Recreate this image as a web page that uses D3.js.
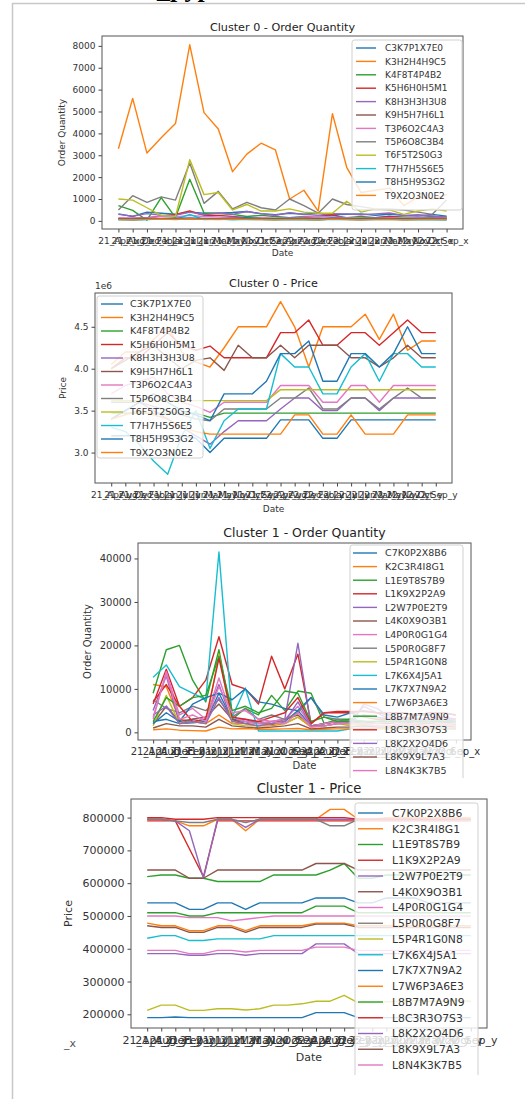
<!DOCTYPE html>
<html>
<head>
<meta charset="utf-8">
<script src="https://cdn.jsdelivr.net/npm/d3@7"></script>
<style>
  body { margin: 0; background: #fff; }
  svg { display: block; font-family: "DejaVu Sans", sans-serif; }
</style>
</head>
<body>
<div id="chart"></div>
<script>
// x categories: the merged columns, sorted as strings (so months come alphabetically)
const years = ["21", "22"];
const months = ["Apr", "Aug", "Dec", "Feb", "Jan", "Jul", "Jun", "Mar", "May", "Nov", "Oct", "Sep"];
const qtyDates = years.flatMap(y => months.map(m => `${y}_${m}_x`));
const priceDates = years.flatMap(y => months.map(m => `${y}_${m}_y`));

const cluster0Products = ["C3K7P1X7E0", "K3H2H4H9C5", "K4F8T4P4B2", "K5H6H0H5M1", "K8H3H3H3U8", "K9H5H7H6L1",
  "T3P6O2C4A3", "T5P6O8C3B4", "T6F5T2S0G3", "T7H7H5S6E5", "T8H5H9S3G2", "T9X2O3N0E2"];
const cluster1Products = ["C7K0P2X8B6", "K2C3R4I8G1", "L1E9T8S7B9", "L1K9X2P2A9", "L2W7P0E2T9", "L4K0X9O3B1",
  "L4P0R0G1G4", "L5P0R0G8F7", "L5P4R1G0N8", "L7K6X4J5A1", "L7K7X7N9A2", "L7W6P3A6E3", "L8B7M7A9N9",
  "L8C3R3O7S3", "L8K2X2O4D6", "L8K9X9L7A3", "L8N4K3K7B5"];

// cluster 0 - order quantity (one row per product)
const qty0 = [
  [320,200,400,350,300,400,350,350,380,430,330,280,350,300,350,280,300,320,260,300,250,220,300,220],
  [3300,5600,3100,3800,4450,8050,4950,4200,2250,3050,3550,3250,1000,1400,450,4900,2450,1300,1400,1500,700,1100,1000,1200],
  [700,480,30,1060,150,1900,360,350,300,200,250,200,150,200,180,250,150,200,150,200,180,150,200,180],
  [100,120,150,220,300,450,250,250,200,150,130,100,110,150,220,280,100,120,150,200,130,150,160,140],
  [300,220,330,250,260,400,280,350,300,430,320,260,380,300,250,330,320,280,320,360,250,280,220,170],
  [80,60,70,90,80,100,70,90,80,110,70,60,80,70,60,80,70,60,70,80,60,70,80,70],
  [150,120,130,200,180,250,200,180,160,150,140,130,150,170,200,180,150,120,130,150,140,160,150,120],
  [500,1150,850,1100,950,2650,800,1350,550,850,600,500,1000,700,350,1000,750,650,550,550,500,400,300,950],
  [1000,950,600,250,200,2800,1200,1300,500,750,450,450,550,400,350,350,900,400,550,500,300,450,550,450],
  [50,40,60,80,70,300,60,80,50,70,60,50,60,50,40,70,60,50,60,70,50,60,50,40],
  [100,90,110,100,120,130,110,100,120,140,110,100,120,110,100,130,110,100,120,110,100,110,120,100],
  [60,50,70,80,60,90,70,60,80,70,60,50,70,60,50,80,60,50,70,60,50,60,70,60]
];

// cluster 0 - price
const price0 = [
  [3.2e6,3.2e6,3.2e6,3.2e6,3.2e6,3.2e6,3.17e6,3.0e6,3.17e6,3.17e6,3.17e6,3.17e6,3.39e6,3.39e6,3.39e6,3.17e6,3.17e6,3.39e6,3.39e6,3.39e6,3.39e6,3.39e6,3.39e6,3.39e6],
  [4.05e6,4.2e6,4.2e6,4.35e6,4.5e6,4.2e6,4.08e6,4.02e6,4.25e6,4.5e6,4.5e6,4.5e6,4.8e6,4.5e6,4.02e6,4.5e6,4.5e6,4.5e6,4.65e6,4.35e6,4.65e6,4.22e6,4.33e6,4.33e6],
  [3.47e6,3.47e6,3.47e6,3.47e6,3.47e6,3.47e6,3.47e6,3.42e6,3.47e6,3.47e6,3.47e6,3.47e6,3.47e6,3.47e6,3.47e6,3.47e6,3.47e6,3.47e6,3.47e6,3.47e6,3.47e6,3.47e6,3.47e6,3.47e6],
  [4.0e6,4.13e6,4.13e6,4.28e6,4.43e6,4.28e6,4.22e6,4.27e6,4.13e6,4.13e6,4.13e6,4.13e6,4.43e6,4.43e6,4.58e6,4.28e6,4.28e6,4.43e6,4.43e6,4.28e6,4.43e6,4.58e6,4.43e6,4.43e6],
  [3.4e6,3.5e6,3.6e6,3.5e6,3.4e6,3.3e6,3.2e6,3.1e6,3.25e6,3.38e6,3.38e6,3.38e6,3.52e6,3.65e6,3.65e6,3.5e6,3.5e6,3.65e6,3.65e6,3.5e6,3.65e6,3.65e6,3.65e6,3.65e6],
  [4.0e6,4.1e6,4.2e6,4.28e6,4.13e6,4.0e6,4.1e6,4.13e6,3.98e6,4.28e6,4.13e6,4.13e6,4.28e6,4.13e6,4.28e6,4.28e6,4.28e6,4.13e6,4.13e6,4.02e6,4.13e6,4.28e6,4.13e6,4.13e6],
  [3.7e6,3.8e6,3.85e6,3.9e6,3.7e6,3.6e6,3.55e6,3.48e6,3.6e6,3.6e6,3.6e6,3.6e6,3.8e6,3.8e6,3.8e6,3.6e6,3.6e6,3.8e6,3.8e6,3.6e6,3.8e6,3.8e6,3.8e6,3.8e6],
  [3.6e6,3.6e6,3.6e6,3.55e6,3.5e6,3.45e6,3.4e6,3.38e6,3.52e6,3.52e6,3.52e6,3.52e6,3.65e6,3.65e6,3.77e6,3.52e6,3.52e6,3.65e6,3.65e6,3.52e6,3.65e6,3.77e6,3.65e6,3.65e6],
  [3.62e6,3.62e6,3.62e6,3.62e6,3.62e6,3.62e6,3.62e6,3.62e6,3.62e6,3.62e6,3.62e6,3.62e6,3.75e6,3.75e6,3.75e6,3.75e6,3.75e6,3.75e6,3.75e6,3.75e6,3.75e6,3.75e6,3.75e6,3.75e6],
  [3.3e6,3.25e6,3.1e6,2.9e6,2.74e6,3.2e6,3.5e6,3.05e6,3.38e6,3.52e6,3.52e6,3.52e6,4.18e6,4.02e6,4.02e6,3.7e6,3.7e6,4.02e6,4.18e6,3.85e6,4.18e6,4.18e6,4.02e6,4.02e6],
  [3.4e6,3.5e6,3.6e6,3.7e6,3.6e6,3.5e6,3.45e6,3.38e6,3.7e6,3.7e6,3.7e6,3.85e6,4.18e6,4.18e6,4.33e6,3.85e6,3.85e6,4.18e6,4.18e6,4.02e6,4.18e6,4.5e6,4.18e6,4.18e6],
  [3.4e6,3.45e6,3.5e6,3.45e6,3.4e6,3.3e6,3.25e6,3.22e6,3.22e6,3.22e6,3.22e6,3.22e6,3.22e6,3.45e6,3.45e6,3.22e6,3.22e6,3.45e6,3.22e6,3.22e6,3.22e6,3.45e6,3.45e6,3.45e6]
];

// cluster 1 - order quantity
const qty1 = [
  [2500,3000,2000,2200,2500,9000,3000,2500,2000,1800,2500,5000,1500,2000,2500,3000,4000,3500,3000,3000,2500,2500,3000,2500],
  [11000,10500,3000,2500,2000,4000,2000,2000,1500,1500,2000,3500,1200,1500,2000,2000,1800,1500,1500,2000,1800,1500,2000,1800],
  [9000,19000,20000,12000,7000,19000,3000,5500,4000,8500,5000,9500,9000,2000,3000,3000,2500,2000,2500,3000,2500,2000,2500,2000],
  [6500,14500,6000,8000,12000,22000,11000,10000,6500,17500,10000,18000,2000,4500,4500,4500,3500,3000,3000,3500,3000,3000,3500,3000],
  [5000,13000,2000,3000,3500,11000,2500,3000,2000,2500,3000,20500,1500,2000,2500,2500,6000,4500,3000,3000,2500,3000,2500,2500],
  [2000,6000,2500,3000,3500,6500,3000,2000,2500,2000,3000,4000,1500,2000,2500,2000,2500,2000,2000,2500,2000,2000,2500,2000],
  [3000,14000,4000,5500,3000,12500,3500,2500,2000,2500,3000,6000,1500,2000,2500,2000,2000,2000,2500,2000,2000,2500,2000,2000],
  [7500,5500,4500,6000,5000,7500,3500,5500,3000,4000,3000,4500,8000,3500,3000,2500,2500,2500,3000,2500,2500,3000,2500,2500],
  [1500,8500,2000,2500,2000,18000,2000,1500,1500,2000,2000,3500,1500,1500,2000,1500,1500,1500,1500,1500,1500,1500,1500,1500],
  [12700,15500,10500,9000,7500,41500,3500,10200,300,300,300,300,300,300,300,800,1000,900,900,1000,900,900,1000,900],
  [2000,4500,2500,6500,8000,9000,7500,10000,7000,6500,5500,5000,8000,4000,3500,4500,5000,4500,4000,4500,4000,4000,4500,4000],
  [600,800,500,400,300,1200,800,900,700,700,800,900,600,700,800,800,700,800,800,700,800,700,800,700],
  [2500,8000,6000,8000,8500,17500,5000,6000,4500,5500,9500,9000,2500,3500,2500,2500,2500,2500,2500,2500,2500,2500,2500,2500],
  [7000,11000,6000,2500,3000,17000,3500,3000,2500,3500,4500,8000,2000,4500,4800,4800,4800,4500,4500,4500,4000,4500,4500,4000],
  [4000,6000,2000,2500,2000,8000,2500,2000,1500,2000,2500,7000,1500,1500,2000,2000,6500,5500,3500,3000,3000,3000,3000,3000],
  [1000,2000,1500,1500,1200,3000,1500,1200,1000,1200,1500,2000,800,1000,1200,1200,1500,1200,1200,1500,1200,1200,1500,1200],
  [3500,13500,3000,4000,2500,10500,4500,5000,3000,2500,2000,4500,1200,1500,2000,2000,2000,1500,1500,2000,1500,1500,2000,1500]
];

// cluster 1 - price
const price1 = [
  [540e3,540e3,540e3,520e3,520e3,540e3,540e3,520e3,540e3,540e3,540e3,540e3,555e3,555e3,555e3,540e3,540e3,555e3,555e3,555e3,540e3,540e3,540e3,540e3],
  [795e3,795e3,790e3,775e3,775e3,795e3,795e3,760e3,795e3,795e3,795e3,795e3,795e3,825e3,825e3,795e3,795e3,800e3,800e3,800e3,800e3,800e3,800e3,800e3],
  [620e3,625e3,625e3,615e3,615e3,605e3,605e3,605e3,605e3,625e3,625e3,625e3,625e3,640e3,660e3,615e3,615e3,625e3,625e3,625e3,625e3,625e3,625e3,625e3],
  [790e3,790e3,790e3,705e3,620e3,790e3,790e3,790e3,790e3,790e3,790e3,790e3,790e3,790e3,790e3,790e3,790e3,790e3,790e3,790e3,790e3,790e3,790e3,790e3],
  [795e3,795e3,790e3,760e3,615e3,795e3,795e3,770e3,795e3,795e3,795e3,795e3,795e3,795e3,795e3,795e3,795e3,795e3,795e3,795e3,795e3,795e3,795e3,795e3],
  [640e3,640e3,640e3,615e3,615e3,640e3,640e3,640e3,640e3,640e3,640e3,640e3,660e3,660e3,660e3,640e3,640e3,640e3,640e3,640e3,640e3,640e3,640e3,640e3],
  [500e3,500e3,500e3,495e3,495e3,495e3,485e3,490e3,495e3,500e3,500e3,500e3,500e3,500e3,500e3,500e3,500e3,500e3,500e3,500e3,500e3,500e3,500e3,500e3],
  [795e3,795e3,790e3,785e3,785e3,795e3,795e3,785e3,795e3,795e3,795e3,795e3,795e3,775e3,775e3,795e3,795e3,795e3,795e3,795e3,795e3,795e3,795e3,795e3],
  [212e3,228e3,228e3,212e3,212e3,217e3,217e3,213e3,217e3,228e3,228e3,232e3,240e3,240e3,258e3,235e3,235e3,238e3,240e3,242e3,240e3,240e3,242e3,240e3],
  [432e3,440e3,440e3,425e3,425e3,430e3,430e3,430e3,430e3,440e3,440e3,440e3,440e3,440e3,440e3,440e3,440e3,440e3,440e3,440e3,440e3,440e3,440e3,440e3],
  [190e3,190e3,192e3,190e3,190e3,190e3,190e3,190e3,190e3,190e3,190e3,190e3,205e3,205e3,205e3,190e3,190e3,190e3,190e3,190e3,190e3,190e3,190e3,190e3],
  [478e3,470e3,470e3,455e3,455e3,470e3,470e3,455e3,470e3,470e3,470e3,470e3,478e3,478e3,478e3,470e3,470e3,470e3,470e3,470e3,470e3,470e3,470e3,470e3],
  [510e3,510e3,510e3,500e3,500e3,510e3,510e3,510e3,510e3,510e3,510e3,510e3,530e3,530e3,530e3,510e3,510e3,510e3,510e3,510e3,510e3,510e3,510e3,510e3],
  [800e3,800e3,795e3,795e3,795e3,800e3,800e3,800e3,800e3,800e3,800e3,800e3,800e3,800e3,800e3,795e3,795e3,795e3,795e3,795e3,795e3,795e3,795e3,795e3],
  [385e3,385e3,385e3,380e3,380e3,385e3,385e3,380e3,385e3,385e3,385e3,385e3,415e3,415e3,415e3,385e3,385e3,385e3,385e3,385e3,385e3,385e3,385e3,385e3],
  [470e3,465e3,465e3,450e3,450e3,465e3,465e3,450e3,465e3,465e3,465e3,465e3,475e3,475e3,475e3,465e3,465e3,465e3,465e3,465e3,465e3,465e3,465e3,465e3],
  [395e3,395e3,395e3,385e3,385e3,395e3,395e3,390e3,395e3,395e3,395e3,395e3,405e3,405e3,405e3,395e3,395e3,395e3,395e3,395e3,395e3,395e3,395e3,395e3]
];

const qtyTicks0 = [0, 1000, 2000, 3000, 4000, 5000, 6000, 7000, 8000];
const priceTicks0 = [3.0e6, 3.5e6, 4.0e6, 4.5e6];
const qtyTicks1 = [0, 10000, 20000, 30000, 40000];
const priceTicks1 = [200000, 300000, 400000, 500000, 600000, 700000, 800000];

const tab10 = ["#1f77b4", "#ff7f0e", "#2ca02c", "#d62728", "#9467bd", "#8c564b", "#e377c2", "#7f7f7f", "#bcbd22", "#17becf"];

const width = 525, height = 1099;
const svg = d3.select("#chart").append("svg")
  .attr("width", width)
  .attr("height", height);

// notebook output frame + cut off header text
svg.append("line").attr("x1", 12.5).attr("x2", 12.5).attr("y1", 3).attr("y2", height)
  .attr("stroke", "#c8c8c8").attr("stroke-width", 1.5);
svg.append("line").attr("x1", 12).attr("x2", width).attr("y1", 3.5).attr("y2", 3.5)
  .attr("stroke", "#c8c8c8").attr("stroke-width", 1.5);
svg.append("text").attr("x", 157).attr("y", -3)
  .attr("font-family", "Liberation Serif").attr("font-weight", "bold").attr("font-size", 26)
  .text("_pyplot");

let clipId = 0;
function drawPanel(p) {
  const g = svg.append("g");
  if (p.clip) {
    const id = "clip" + (clipId++);
    svg.append("clipPath").attr("id", id).append("rect")
      .attr("x", 0).attr("y", p.clip[0]).attr("width", width).attr("height", p.clip[1] - p.clip[0]);
    g.attr("clip-path", `url(#${id})`);
  }

  const x = d3.scalePoint().domain(p.dates).range([p.left, p.right]).padding(1.15);
  const all = p.series.flat();
  const lo = d3.min(all), hi = d3.max(all), pad = (hi - lo) * 0.05; // matplotlib style margins
  const y = d3.scaleLinear().domain([lo - pad, hi + pad]).range([p.bottom, p.top]);

  const line = d3.line().x((d, i) => x(p.dates[i])).y(d => y(d));
  g.append("g").selectAll("path")
    .data(p.series)
    .join("path")
    .attr("fill", "none")
    .attr("stroke", (d, i) => tab10[i % 10])
    .attr("stroke-width", 1.4)
    .attr("stroke-linejoin", "round")
    .attr("d", line);

  // axes
  const xAxis = g.append("g")
    .attr("transform", `translate(0,${p.bottom})`)
    .call(d3.axisBottom(x).tickSizeInner(3.5).tickSizeOuter(0).tickPadding(p.xPad));
  const yAxis = g.append("g")
    .attr("transform", `translate(${p.left},0)`)
    .call(d3.axisLeft(y).tickValues(p.yTicks).tickFormat(p.yFormat).tickSizeInner(3.5).tickSizeOuter(0).tickPadding(3));
  [xAxis, yAxis].forEach(a => {
    a.select(".domain").remove();
    a.selectAll(".tick line").attr("stroke", "#444");
    a.selectAll("text").attr("fill", "#333").attr("font-family", "DejaVu Sans").attr("font-size", p.tickFont);
  });

  g.append("rect")
    .attr("x", p.left).attr("y", p.top)
    .attr("width", p.right - p.left).attr("height", p.bottom - p.top)
    .attr("fill", "none").attr("stroke", "#555").attr("stroke-width", 1);

  if (p.offsetText) {
    g.append("text").attr("x", p.left).attr("y", p.top - 4)
      .attr("font-size", p.tickFont).attr("fill", "#333").text(p.offsetText);
  }

  // title and axis labels
  const cx = (p.left + p.right) / 2;
  g.append("text").attr("x", cx).attr("y", p.titleY).attr("dy", "0.35em")
    .attr("text-anchor", "middle").attr("font-size", p.titleFont).attr("fill", "#222").text(p.title);
  g.append("text").attr("x", cx).attr("y", p.xLabelY).attr("dy", "0.35em")
    .attr("text-anchor", "middle").attr("font-size", p.labelFont).attr("fill", "#333").text("Date");
  g.append("text")
    .attr("transform", `translate(${p.yLabelX},${(p.top + p.bottom) / 2}) rotate(-90)`)
    .attr("dy", "0.35em")
    .attr("text-anchor", "middle").attr("font-size", p.labelFont).attr("fill", "#333").text(p.yLabel);

  // legend
  const L = p.legend;
  const lg = g.append("g").attr("transform", `translate(${L.x},${L.y})`);
  lg.append("rect")
    .attr("width", L.w)
    .attr("height", L.h)
    .attr("rx", 2.5)
    .attr("fill", "#fff").attr("fill-opacity", 0.82)
    .attr("stroke", "#d0d0d0").attr("stroke-width", 1);
  const item = lg.selectAll("g.item")
    .data(p.names)
    .join("g")
    .attr("class", "item")
    .attr("transform", (d, i) => `translate(0,${L.first + i * L.step})`);
  item.append("line")
    .attr("x1", L.hx).attr("x2", L.hx + L.hw)
    .attr("stroke", (d, i) => tab10[i % 10]).attr("stroke-width", 1.4);
  item.append("text")
    .attr("x", L.tx).attr("dy", "0.35em")
    .attr("font-size", L.font).attr("fill", "#333")
    .text(d => d);
}

drawPanel({
  title: "Cluster 0 - Order Quantity", yLabel: "Order Quantity",
  dates: qtyDates, series: qty0, names: cluster0Products,
  yTicks: qtyTicks0, yFormat: d3.format("d"),
  left: 102, right: 463, top: 36, bottom: 229,
  titleY: 27, xLabelY: 253, yLabelX: 62, xPad: 5,
  tickFont: 9, titleFont: 11.2, labelFont: 9,
  legend: { x: 352, y: 40, w: 110, h: 170, first: 8, step: 13.4, hx: 4, hw: 20, tx: 33, font: 9 }
});

drawPanel({
  title: "Cluster 0 - Price", yLabel: "Price",
  dates: priceDates, series: price0, names: cluster0Products,
  yTicks: priceTicks0, yFormat: d => (d / 1e6).toFixed(1), offsetText: "1e6",
  left: 95, right: 452, top: 293, bottom: 483,
  titleY: 283, xLabelY: 509, yLabelX: 63, xPad: 5,
  tickFont: 9, titleFont: 11.2, labelFont: 9,
  legend: { x: 97, y: 296, w: 106, h: 162, first: 8, step: 13.5, hx: 4, hw: 22, tx: 33, font: 9.5 }
});

drawPanel({
  title: "Cluster 1 - Order Quantity", yLabel: "Order Quantity",
  dates: qtyDates, series: qty1, names: cluster1Products,
  yTicks: qtyTicks1, yFormat: d3.format("d"),
  left: 138, right: 471, top: 543, bottom: 740,
  titleY: 533, xLabelY: 765, yLabelX: 87, xPad: 4,
  tickFont: 10, titleFont: 12.5, labelFont: 10,
  clip: [520, 778],
  legend: { x: 350, y: 545, w: 113, h: 250, first: 8, step: 13.6, hx: 3, hw: 24, tx: 35, font: 9.5 }
});

drawPanel({
  title: "Cluster 1 - Price", yLabel: "Price",
  dates: priceDates, series: price1, names: cluster1Products,
  yTicks: priceTicks1, yFormat: d3.format("d"),
  left: 131, right: 487, top: 799, bottom: 1028,
  titleY: 788, xLabelY: 1057, yLabelX: 68, xPad: 5,
  tickFont: 11, titleFont: 13.2, labelFont: 11,
  clip: [779, 1075],
  legend: { x: 355, y: 803, w: 123, h: 290, first: 10, step: 15.75, hx: 3, hw: 25, tx: 37, font: 10.8 }
});

// stray label tail at the left of the last panel
svg.append("text").attr("x", 64).attr("y", 1047).attr("font-size", 11).attr("fill", "#555").text("_x");
</script>
</body>
</html>
